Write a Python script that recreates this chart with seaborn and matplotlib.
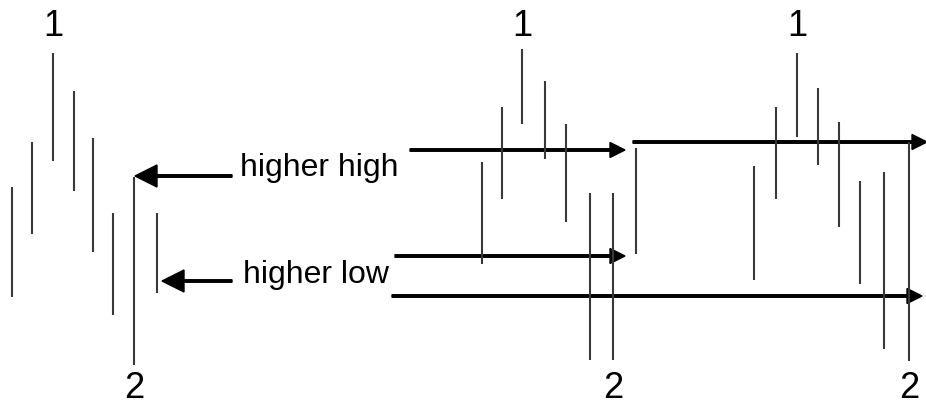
import matplotlib
matplotlib.use("Agg")
import matplotlib.pyplot as plt
import seaborn as sns
from matplotlib import font_manager

sns.set_style("white")

# price bars (x position, high, low) in picture units, y grows downward
bar_x = [12, 32, 53, 74, 93, 113, 134, 157,
         482, 502, 522, 545, 566, 590, 613, 636,
         754, 776, 797, 818, 839, 860, 884, 909]
bar_high = [188, 143, 54, 92, 139, 214, 178, 214,
            163, 108, 50, 82, 125, 194, 194, 149,
            167, 108, 54, 89, 123, 182, 173, 143]
bar_low = [298, 235, 162, 192, 253, 316, 366, 294,
           265, 200, 125, 160, 223, 361, 361, 255,
           281, 200, 138, 166, 228, 285, 350, 362]

# swing labels: "1" above the top bar, "2" under the bottom bar
label_text = ["1", "2", "1", "2", "1", "2"]
label_x = [53, 134, 522, 613, 797, 909]
label_y = [27, 389, 27, 389, 27, 389]

# arrows (start x, end x, y)
arrow_x0 = [232, 232, 410, 395, 392, 633]
arrow_x1 = [135, 162, 625, 625, 922, 927]
arrow_y = [177, 282, 151, 257, 297, 143]
arrow_head = [22, 22, 15, 15, 15, 15]

names = {f.name for f in font_manager.fontManager.ttflist}
font = "Liberation Sans Narrow" if "Liberation Sans Narrow" in names else "Liberation Sans"
plt.rcParams["font.family"] = [font, "DejaVu Sans"]

fig = plt.figure(figsize=(9.26, 4.06), dpi=100)
ax = fig.add_axes([0, 0, 1, 1])
ax.set_xlim(0, 926)
ax.set_ylim(406, 0)
ax.axis("off")

ax.vlines(bar_x, bar_high, bar_low, colors="#383838", linewidth=1.5)

for x0, x1, y, h in zip(arrow_x0, arrow_x1, arrow_y, arrow_head):
    ax.arrow(x0, y, x1 - x0, 0, width=2.5, head_width=h, head_length=h,
             length_includes_head=True, color="black", clip_on=False)

for t, x, y in zip(label_text, label_x, label_y):
    ax.text(x, y, t, ha="center", va="center", fontsize=26, color="black")

ax.text(240, 176, "higher high", ha="left", va="baseline", fontsize=23, color="black")
ax.text(243, 283, "higher low", ha="left", va="baseline", fontsize=23, color="black")

fig.savefig("out.png", dpi=100)
